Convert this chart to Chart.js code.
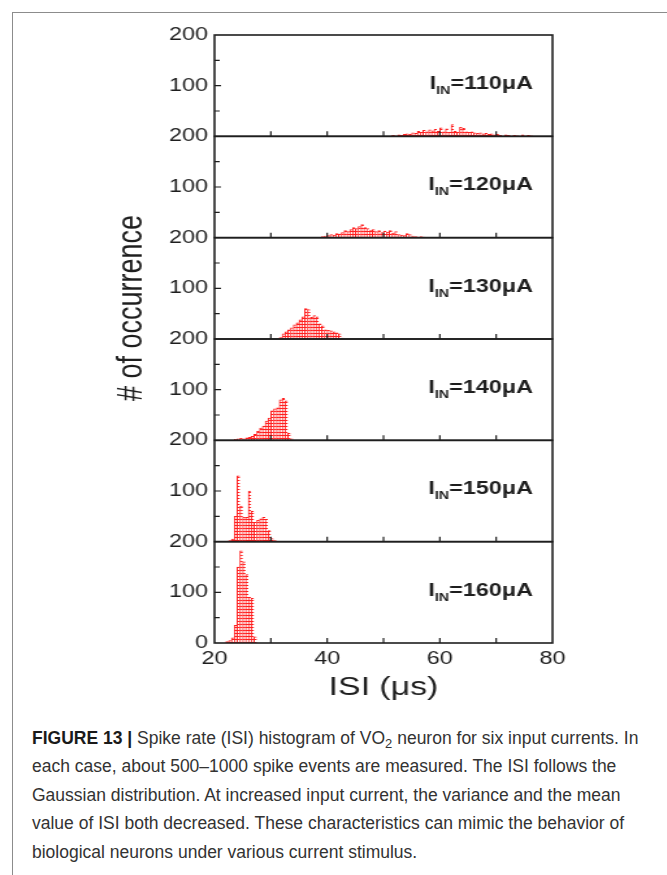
<!DOCTYPE html>
<html>
<head>
<meta charset="utf-8">
<script src="https://cdn.jsdelivr.net/npm/chart.js@4.4.0/dist/chart.umd.min.js"></script>
<style>
  html, body { margin: 0; padding: 0; background: #fff; }
  body { width: 667px; height: 875px; position: relative; overflow: hidden; }
  #frameL { position: absolute; left: 12px; top: 12px; width: 1px; height: 863px; background: #8c8c8c; }
  #frameT { position: absolute; left: 12px; top: 12px; width: 655px; height: 1px; background: #8c8c8c; }
  /* the source figure is stretched sideways, so the chart is too */
  #plot { position: absolute; left: 0; top: 0; width: 513px; height: 715px; transform: scaleX(1.3); transform-origin: 0 0; }
  #caption { position: absolute; left: 32px; top: 724px; white-space: nowrap;
    font-family: "Liberation Sans Narrow", "Liberation Sans", Arial, sans-serif;
    font-size: 17.5px; line-height: 28.4px; color: #333; }
  #caption b { color: #1a1a1a; }
  #caption sub { font-size: 13px; line-height: 0; vertical-align: -4px; }
</style>
</head>
<body>
<div id="frameL"></div>
<div id="frameT"></div>
<div id="plot"><canvas id="chart" width="513" height="715"></canvas></div>
<div id="caption">
  <b>FIGURE 13 |</b> Spike rate (ISI) histogram of VO<sub>2</sub> neuron for six input currents. In<br>
  each case, about 500–1000 spike events are measured. The ISI follows the<br>
  Gaussian distribution. At increased input current, the variance and the mean<br>
  value of ISI both decreased. These characteristics can mimic the behavior of<br>
  biological neurons under various current stimulus.
</div>
<script>
// input currents (uA), one panel each, top to bottom
const currents = [110, 120, 130, 140, 150, 160];
const binWidth = 0.5;  // us
// left edge of the first bin of each panel
const binStarts = [51.5, 39.0, 31.5, 23.5, 22.5, 22.0];

const counts110 = [2, 0, 3, 2, 4, 5, 4, 7, 6, 10, 8, 12, 9, 13, 11, 14, 10, 17, 9, 15, 8, 23, 10, 8, 18,
  16, 9, 8, 9, 7, 6, 7, 5, 6, 4, 5, 3, 4, 2, 0, 3, 2, 0, 2, 1, 0, 3, 0, 2, 1];
const counts120 = [2, 3, 4, 6, 5, 8, 7, 10, 14, 12, 16, 20, 18, 22, 26, 20, 18, 14, 16, 12, 14, 10, 13,
  11, 14, 9, 12, 6, 5, 4, 8, 6, 3, 2, 1, 2, 1];
const counts130 = [3, 10, 14, 18, 22, 28, 32, 38, 44, 60, 58, 43, 46, 44, 30, 26, 18, 17, 16, 14, 12, 10, 2];
const counts140 = [2, 3, 4, 3, 5, 6, 8, 12, 18, 24, 28, 38, 44, 58, 62, 64, 80, 83, 78, 14, 3];
const counts150 = [2, 5, 50, 130, 70, 48, 48, 100, 60, 38, 42, 45, 48, 44, 22, 6, 2];
const counts160 = [3, 5, 10, 35, 150, 182, 160, 135, 90, 88, 12];
const allCounts = [counts110, counts120, counts130, counts140, counts150, counts160];

const xTickStep = 20;       // labelled ticks 20, 40, 60, 80
const xInnerTicks = [30, 40, 50, 60, 70];
const yInnerTicks = [50, 100, 150];

const red = '#ff2020';
const ink = '#1e1e1e';
const tickFont = { family: '"Liberation Sans", Arial, sans-serif', size: 18 };

// red hatch fill like the original bars
const tile = document.createElement('canvas');
tile.width = 3; tile.height = 3;
const tg = tile.getContext('2d');
tg.fillStyle = '#fff'; tg.fillRect(0, 0, 3, 3);
tg.fillStyle = red; tg.fillRect(0, 0, 3, 1);
const hatch = tg.createPattern(tile, 'repeat');

const datasets = allCounts.map((counts, i) => ({
  label: 'I_IN=' + currents[i] + 'μA',
  data: counts.map((c, j) => ({ x: binStarts[i] + binWidth * j + binWidth / 2, y: c })),
  yAxisID: 'p' + i,
  xAxisID: 'x',
  grouped: false,
  barPercentage: 1,
  categoryPercentage: 1,
  backgroundColor: hatch,
  borderColor: red,
  borderWidth: { top: 1, left: 1, right: 0, bottom: 0 },
  borderSkipped: false
}));

const scales = {
  x: {
    type: 'linear', min: 20, max: 80, offset: false,
    grid: { display: false, drawTicks: false },
    border: { display: false },
    ticks: { stepSize: xTickStep, padding: 5, color: ink, font: tickFont, maxRotation: 0 },
    afterFit: s => { s.height = 60; }
  }
};
// stacked left axes are laid out last-defined on top, so add them bottom first
for (let i = currents.length - 1; i >= 0; i--) {
  scales['p' + i] = {
    type: 'linear', position: 'left', stack: 'panels', stackWeight: 1,
    min: 0, max: 200,
    grid: { display: false, drawTicks: false },
    border: { display: false },
    ticks: {
      stepSize: 100, padding: 5, color: ink, font: tickFont,
      callback: v => (v === 0 && i < currents.length - 1) ? '' : v
    },
    afterFit: s => { s.width = 42; }
  };
}

const panelPlugin = {
  id: 'panels',
  afterDatasetsDraw(chart) {
    const { ctx, chartArea } = chart;
    const xs = chart.scales.x;
    ctx.save();
    currents.forEach((cur, i) => {
      const ys = chart.scales['p' + i];
      const top = ys.getPixelForValue(200);
      const bottom = ys.getPixelForValue(0);
      ctx.strokeStyle = ink;
      ctx.lineWidth = 1.6;
      ctx.strokeRect(chartArea.left, top, chartArea.right - chartArea.left, bottom - top);
      ctx.lineWidth = 1.2;
      ctx.beginPath();
      yInnerTicks.forEach(v => {
        const y = ys.getPixelForValue(v);
        ctx.moveTo(chartArea.left, y);
        ctx.lineTo(chartArea.left + (v === 100 ? 5 : 4), y);
      });
      xInnerTicks.forEach(v => {
        const x = xs.getPixelForValue(v);
        ctx.moveTo(x, bottom);
        ctx.lineTo(x, bottom - 5);
      });
      ctx.stroke();

      // I_IN=...uA label, right aligned
      const big = 'bold 18px "Liberation Sans", Arial, sans-serif';
      const small = 'bold 11px "Liberation Sans", Arial, sans-serif';
      const rest = '=' + cur + 'μA';
      ctx.font = big;
      const wI = ctx.measureText('I').width;
      const wRest = ctx.measureText(rest).width;
      ctx.font = small;
      const wSub = ctx.measureText('IN').width;
      let x = chartArea.right - 15 - wI - wSub - wRest;
      const base = top + 54;
      ctx.fillStyle = ink;
      ctx.textAlign = 'left';
      ctx.textBaseline = 'alphabetic';
      ctx.font = big; ctx.fillText('I', x, base); x += wI;
      ctx.font = small; ctx.fillText('IN', x, base + 5); x += wSub;
      ctx.font = big; ctx.fillText(rest, x, base);
    });

    // axis titles
    ctx.fillStyle = ink;
    ctx.font = '26px "Liberation Sans", Arial, sans-serif';
    ctx.textAlign = 'center';
    ctx.textBaseline = 'middle';
    ctx.fillText('ISI (μs)', (chartArea.left + chartArea.right) / 2, chartArea.bottom + 45);
    ctx.font = '27px "Liberation Sans", Arial, sans-serif';
    ctx.translate(chartArea.left - 63, 308);
    ctx.rotate(-Math.PI / 2);
    ctx.fillText('# of occurrence', 0, 0);
    ctx.restore();
  }
};

new Chart(document.getElementById('chart'), {
  type: 'bar',
  data: { datasets },
  options: {
    responsive: false,
    animation: false,
    layout: { padding: { left: 123, right: 88, top: 35, bottom: 12 } },
    plugins: { legend: { display: false }, tooltip: { enabled: false } },
    scales
  },
  plugins: [panelPlugin]
});
</script>
</body>
</html>
